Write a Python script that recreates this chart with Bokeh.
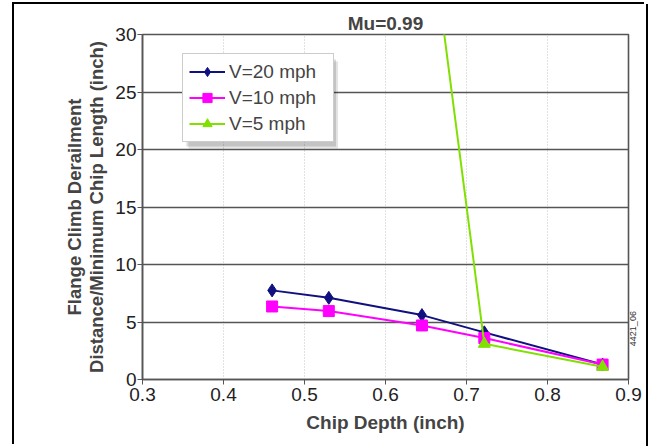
import math
from bokeh.plotting import figure
from bokeh.embed import file_html
from bokeh.resources import INLINE
from bokeh.models import Legend, LegendItem, LinearAxis, FixedTicker, BoxAnnotation

x20 = [0.46, 0.53, 0.645, 0.722, 0.868]
y20 = [7.75, 7.1, 5.6, 4.1, 1.3]
x10 = [0.46, 0.53, 0.645, 0.722, 0.868]
y10 = [6.35, 5.95, 4.7, 3.6, 1.3]
x5 = [0.645, 0.722, 0.868]
y5 = [45.0, 3.1, 1.1]
xticks = [0.3, 0.4, 0.5, 0.6, 0.7, 0.8, 0.9]
yticks = [0, 5, 10, 15, 20, 25, 30]
XR = (0.3, 0.9)
YR = (0, 30)
FIG_ID = "4421_06"
FIG_ID_Y = 2.9

FONT = "Liberation Sans"

W, H = 632, 442
BL, BR, BT, BB = 128, 17, 30, 67
FW, FH = W - BL - BR, H - BT - BB

p = figure(width=W, height=H, x_range=XR, y_range=YR,
           output_backend="svg", toolbar_location=None,
           min_border_left=BL, min_border_right=BR, min_border_top=BT, min_border_bottom=BB)
p.margin = (4, 0, 0, 14)
p.styles = {"box-shadow": "-2px -2px 0 0 #000000, 2px 0 0 0 #000000"}

p.title.text = "Mu=0.99"
p.title.align = "center"
p.title.text_font = FONT
p.title.text_font_size = "19px"
p.title.text_font_style = "bold"
p.title.standoff = 2

p.xaxis.ticker = FixedTicker(ticks=xticks)
p.yaxis.ticker = FixedTicker(ticks=yticks)
p.xaxis.axis_label = "Chip Depth (inch)"
p.yaxis.axis_label = "Flange Climb Derailment\nDistance/Minimum Chip Length (inch)"
for ax in (p.xaxis, p.yaxis):
    ax.axis_label_text_font = FONT
    ax.axis_label_text_font_style = "bold"
    ax.axis_label_text_font_size = "18.5px"
    ax.axis_label_text_line_height = 1.08
    ax.major_label_text_font = FONT
    ax.major_label_text_font_size = "19px"
    ax.major_label_text_color = "#222222"
    ax.axis_line_color = "#555555"
    ax.axis_line_width = 1.5
    ax.major_tick_line_color = "#555555"
    ax.major_tick_in = 0
    ax.major_tick_out = 5
    ax.minor_tick_line_color = None
p.xaxis.axis_label_text_font_size = "19px"
p.yaxis.major_label_standoff = 1
p.xaxis.major_label_standoff = 3
p.yaxis.axis_label_standoff = 5
p.xaxis.axis_label_standoff = 8

p.ygrid.grid_line_color = "#555555"
p.ygrid.grid_line_width = 1.6
p.xgrid.grid_line_color = "#c4c4c4"
p.xgrid.grid_line_dash = "1 2"
p.outline_line_color = "#555555"
p.outline_line_width = 1.6

r20l = p.line(x20, y20, line_color="#101080", line_width=2)
r20m = p.scatter(x20, y20, marker="diamond", size=13, fill_color="#101080", line_color="#101080")
r10l = p.line(x10, y10, line_color="#ff00ff", line_width=2)
r10m = p.scatter(x10, y10, marker="square", size=11, fill_color="#ff00ff", line_color="#ff00ff")
r5l = p.line(x5, y5, line_color="#80e000", line_width=2)
r5m = p.scatter(x5, y5, marker="triangle", size=12, fill_color="#80e000", line_color="#80e000")

# legend placement (pixels from frame bottom-left) and its drop shadow
LEG_X, LEG_Y, LEG_W, LEG_H = 40, 237, 150, 87


def fx(px):
    return XR[0] + px * (XR[1] - XR[0]) / FW


def fy(py):
    return YR[0] + py * (YR[1] - YR[0]) / FH


for d, a in ((6, 0.10), (4, 0.14)):
    p.add_layout(BoxAnnotation(left=fx(LEG_X + d), right=fx(LEG_X + LEG_W + d),
                               bottom=fy(LEG_Y - d), top=fy(LEG_Y + LEG_H - d),
                               fill_color="#000000", fill_alpha=a, line_color=None))

legend = Legend(items=[
    LegendItem(label="V=20 mph", renderers=[r20l, r20m]),
    LegendItem(label="V=10 mph", renderers=[r10l, r10m]),
    LegendItem(label="V=5 mph", renderers=[r5l, r5m]),
], location=(LEG_X, LEG_Y))
legend.label_text_font = FONT
legend.label_text_font_size = "19px"
legend.border_line_color = "#999999"
legend.border_line_width = 1
legend.background_fill_alpha = 1.0
legend.padding = 6
legend.spacing = 3
legend.glyph_width = 36
legend.glyph_height = 23
legend.label_height = 23
legend.label_width = 98
legend.label_standoff = 4
legend.margin = 0
p.add_layout(legend, "center")

# small vertical figure id at the right edge, reading bottom to top
id_axis = LinearAxis(ticker=FixedTicker(ticks=[FIG_ID_Y]),
                     major_label_overrides={FIG_ID_Y: FIG_ID},
                     major_label_orientation=math.pi / 2,
                     major_label_text_font=FONT, major_label_text_font_size="9px",
                     major_label_text_color="#333333", major_label_standoff=5,
                     major_tick_in=0, major_tick_out=0,
                     axis_line_color=None, major_tick_line_color=None,
                     minor_tick_line_color=None)
p.add_layout(id_axis, "right")

open("out.html", "w").write(file_html(p, INLINE))
